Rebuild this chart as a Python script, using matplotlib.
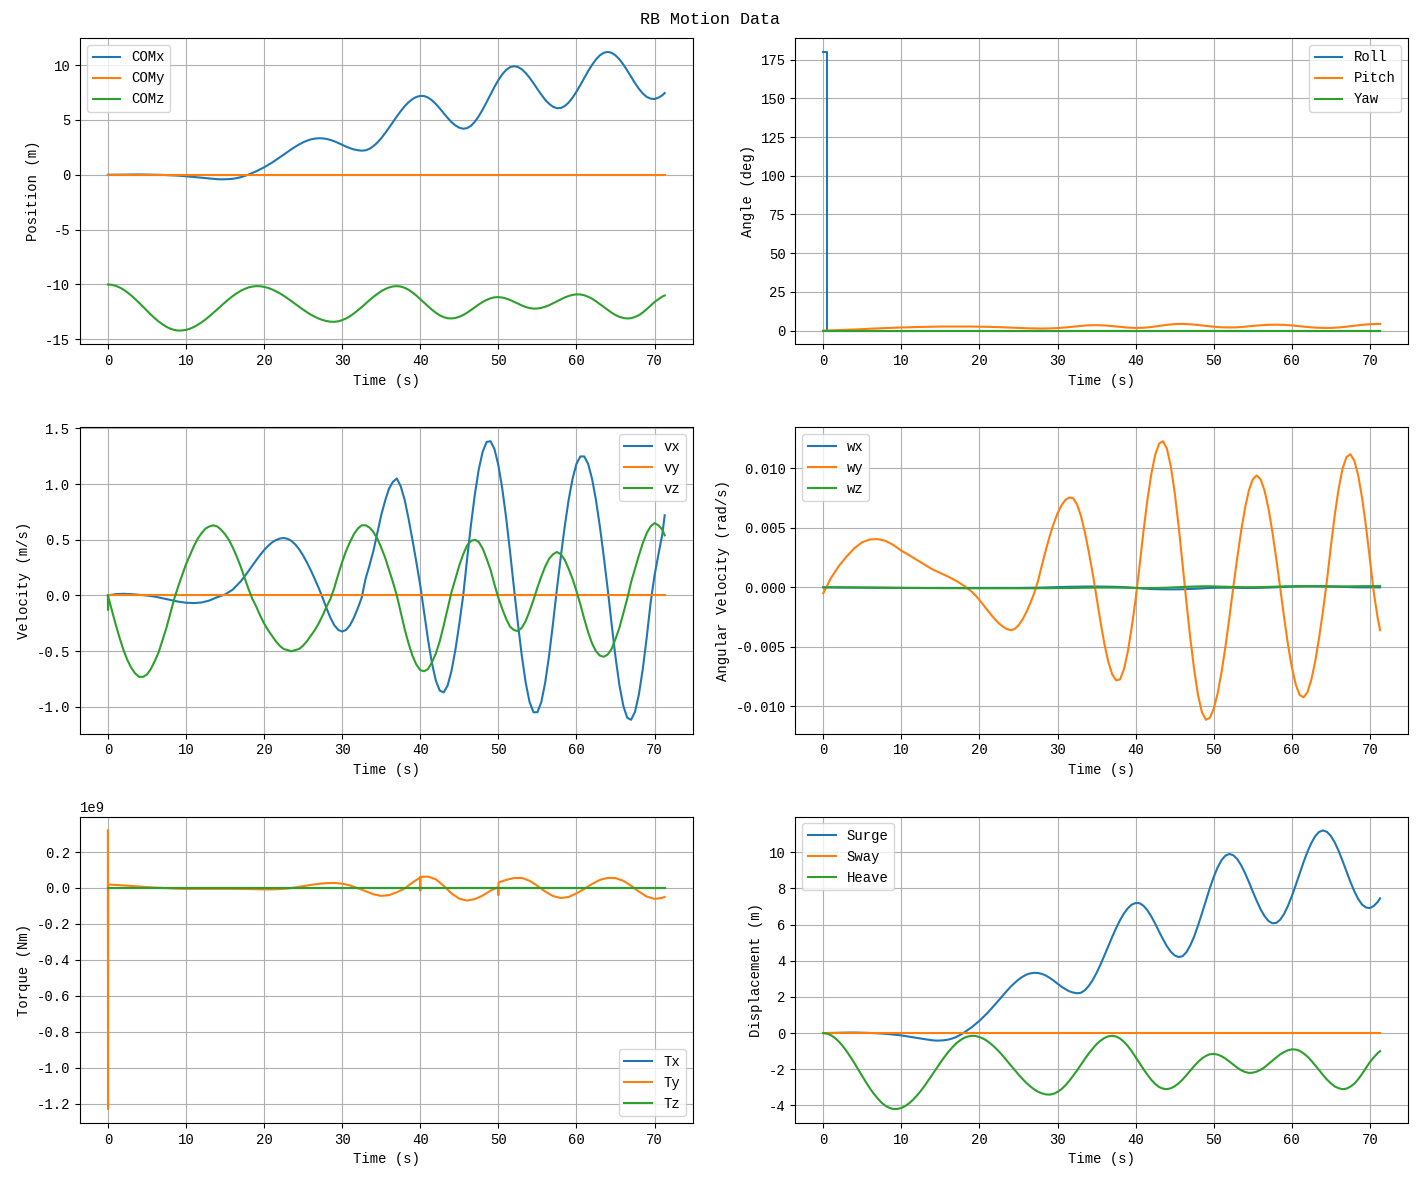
import matplotlib
matplotlib.use("Agg")
import numpy as np
import matplotlib.pyplot as plt

plt.rcParams['font.family'] = ['Liberation Mono', 'DejaVu Sans']
plt.rcParams['axes.unicode_minus'] = False

# ======================================
# DATA
# ======================================

# 0.5 s sampling for the centre of mass
half_time = [0.5 * i for i in range(143)] + [71.3]

com_x = [0.00, 0.005, 0.01, 0.015, 0.02, 0.025, 0.03, 0.03, 0.03, 0.025,
         0.02, 0.015, 0.01, 0.0, -0.01, -0.025, -0.04, -0.06, -0.08, -0.105,
         -0.13, -0.165, -0.20, -0.235, -0.27, -0.305, -0.34, -0.37, -0.40, -0.415,
         -0.41, -0.395, -0.36, -0.30, -0.22, -0.11, 0.02, 0.17, 0.32, 0.50,
         0.68, 0.89, 1.10, 1.34, 1.58, 1.83, 2.08, 2.33, 2.56, 2.77,
         2.96, 3.11, 3.23, 3.30, 3.33, 3.32, 3.27, 3.18, 3.05, 2.90,
         2.73, 2.57, 2.43, 2.31, 2.24, 2.20, 2.23, 2.37, 2.61, 2.93,
         3.33, 3.79, 4.29, 4.80, 5.32, 5.80, 6.24, 6.61, 6.90, 7.10,
         7.19, 7.18, 7.04, 6.79, 6.45, 6.05, 5.61, 5.19, 4.80, 4.50,
         4.29, 4.20, 4.25, 4.47, 4.85, 5.35, 5.96, 6.63, 7.33, 8.01,
         8.63, 9.16, 9.56, 9.81, 9.90, 9.83, 9.62, 9.28, 8.85, 8.35,
         7.82, 7.31, 6.84, 6.47, 6.20, 6.07, 6.09, 6.26, 6.58, 7.03,
         7.57, 8.18, 8.82, 9.45, 10.02, 10.51, 10.89, 11.12, 11.20, 11.12,
         10.89, 10.53, 10.06, 9.51, 8.93, 8.36, 7.84, 7.41, 7.10, 6.94,
         6.91, 7.03, 7.25, 7.45]
com_y = [0.0] * len(half_time)
com_z = [-10.00, -10.03, -10.12, -10.27, -10.47, -10.72, -11.01, -11.33, -11.67, -12.03,
         -12.39, -12.74, -13.07, -13.37, -13.63, -13.86, -14.03, -14.14, -14.20, -14.19,
         -14.14, -14.03, -13.88, -13.68, -13.45, -13.19, -12.90, -12.59, -12.27, -11.95,
         -11.63, -11.33, -11.05, -10.80, -10.58, -10.41, -10.27, -10.19, -10.15, -10.16,
         -10.22, -10.31, -10.44, -10.61, -10.80, -11.02, -11.26, -11.52, -11.78, -12.03,
         -12.29, -12.53, -12.75, -12.94, -13.11, -13.24, -13.33, -13.39, -13.40, -13.36,
         -13.25, -13.10, -12.89, -12.64, -12.36, -12.06, -11.74, -11.43, -11.13, -10.86,
         -10.61, -10.42, -10.27, -10.18, -10.15, -10.19, -10.30, -10.48, -10.72, -11.01,
         -11.33, -11.66, -11.99, -12.30, -12.58, -12.81, -12.98, -13.07, -13.10, -13.05,
         -12.94, -12.78, -12.57, -12.33, -12.07, -11.82, -11.59, -11.40, -11.26, -11.17,
         -11.15, -11.19, -11.28, -11.41, -11.57, -11.74, -11.91, -12.05, -12.15, -12.20,
         -12.19, -12.13, -12.03, -11.89, -11.71, -11.53, -11.35, -11.18, -11.05, -10.95,
         -10.90, -10.91, -10.98, -11.12, -11.30, -11.53, -11.79, -12.05, -12.32, -12.57,
         -12.78, -12.95, -13.05, -13.10, -13.07, -12.96, -12.80, -12.55, -12.25, -11.93,
         -11.60, -11.34, -11.10, -11.00]

# 1 s sampling for the slow signals
time = list(range(72)) + [71.3]

roll_time = [0.0, 0.45, 0.45, 71.3]
roll = [180.0, 180.0, 0.0, 0.0]
pitch = [0.0, 0.1, 0.3, 0.5, 0.7, 0.9, 1.2, 1.4, 1.6, 1.8,
         2.0, 2.1, 2.3, 2.4, 2.5, 2.6, 2.6, 2.6, 2.6, 2.6,
         2.5, 2.4, 2.3, 2.1, 1.9, 1.7, 1.5, 1.4, 1.3, 1.4,
         1.6, 2.0, 2.5, 3.0, 3.4, 3.5, 3.3, 2.9, 2.4, 1.9,
         1.7, 1.8, 2.3, 3.0, 3.7, 4.2, 4.3, 4.1, 3.6, 3.0,
         2.5, 2.1, 2.0, 2.1, 2.5, 3.0, 3.4, 3.7, 3.8, 3.7,
         3.3, 2.8, 2.3, 1.9, 1.7, 1.7, 2.0, 2.5, 3.1, 3.7,
         4.1, 4.3, 4.3]
yaw = [0.0] * len(time)

# 1 s up to 17 s, then 0.5 s for the fast oscillations
fast_time = list(range(17)) + [17 + 0.5 * i for i in range(109)] + [71.3]

vx = [0.00, 0.012, 0.015, 0.012, 0.006, 0.0, -0.01, -0.025, -0.04, -0.055,
      -0.065, -0.068, -0.063, -0.045, -0.015, 0.009, 0.053,
      0.126, 0.171, 0.219, 0.268, 0.317, 0.364, 0.407, 0.444, 0.475, 0.497,
      0.511, 0.516, 0.509, 0.490, 0.458, 0.414, 0.359, 0.295, 0.224, 0.147,
      0.066, -0.02, -0.115, -0.200, -0.267, -0.309, -0.324, -0.309, -0.267, -0.200,
      -0.115, -0.020, 0.15, 0.27, 0.40, 0.56, 0.72, 0.85, 0.96, 1.02,
      1.05, 0.98, 0.86, 0.69, 0.50, 0.30, 0.09, -0.154, -0.399, -0.608,
      -0.765, -0.854, -0.870, -0.809, -0.677, -0.488, -0.256, 0.0, 0.328, 0.638,
      0.911, 1.135, 1.292, 1.378, 1.385, 1.315, 1.171, 0.960, 0.696, 0.393,
      0.066, -0.249, -0.539, -0.782, -0.957, -1.048, -1.048, -0.957, -0.781, -0.539,
      -0.250, 0.059, 0.349, 0.620, 0.857, 1.047, 1.181, 1.248, 1.248, 1.181,
      1.047, 0.857, 0.620, 0.349, 0.059, -0.254, -0.551, -0.803, -0.990, -1.097,
      -1.116, -1.044, -0.887, -0.658, -0.376, -0.064, 0.18, 0.37, 0.55,
      0.72]
vy = [0.0] * len(fast_time)

# vz has a small jump right at the start
vz_time = [0.0, 0.02, 0.04] + half_time[1:]
vz = [0.0, -0.13, -0.01,
      -0.13, -0.26, -0.38, -0.49, -0.58, -0.65, -0.70, -0.73, -0.73, -0.71,
      -0.66, -0.59, -0.51, -0.40, -0.29, -0.16, -0.03, 0.08, 0.18, 0.28,
      0.36, 0.44, 0.51, 0.56, 0.60, 0.62, 0.63, 0.62, 0.59, 0.55,
      0.50, 0.43, 0.35, 0.26, 0.16, 0.06, -0.03, -0.10, -0.18, -0.25,
      -0.31, -0.36, -0.41, -0.45, -0.48, -0.49, -0.50, -0.49, -0.48, -0.45,
      -0.41, -0.36, -0.31, -0.25, -0.18, -0.10, -0.03, 0.07, 0.19, 0.30,
      0.40, 0.48, 0.55, 0.60, 0.63, 0.63, 0.61, 0.57, 0.51, 0.43,
      0.34, 0.23, 0.12, 0.0, -0.15, -0.30, -0.43, -0.54, -0.62, -0.67,
      -0.68, -0.66, -0.60, -0.52, -0.41, -0.27, -0.12, 0.03, 0.15, 0.27,
      0.37, 0.45, 0.49, 0.50, 0.48, 0.42, 0.33, 0.23, 0.10, -0.02,
      -0.12, -0.21, -0.28, -0.31, -0.32, -0.29, -0.23, -0.14, -0.04, 0.07,
      0.17, 0.26, 0.33, 0.37, 0.39, 0.37, 0.32, 0.24, 0.15, 0.04,
      -0.08, -0.21, -0.33, -0.43, -0.50, -0.54, -0.55, -0.53, -0.48, -0.39,
      -0.29, -0.16, -0.03, 0.12, 0.24, 0.36, 0.47, 0.56, 0.62, 0.65,
      0.63, 0.59, 0.54]

# angular velocities in 1e-3 rad/s
wx = [0.0, 0.0, -0.01, -0.01, -0.02, -0.02, -0.03, -0.03, -0.04, -0.04,
      -0.05, -0.05, -0.05, -0.05, -0.05, -0.05, -0.05, -0.05, -0.05, -0.05,
      -0.05, -0.05, -0.05, -0.05, -0.05, -0.05, -0.04, -0.03, -0.02, 0.0,
      0.02, 0.04, 0.05, 0.06, 0.07, 0.07, 0.06, 0.05, 0.03, 0.0,
      -0.05, -0.10, -0.14, -0.16, -0.17, -0.17, -0.16, -0.14, -0.11, -0.07,
      -0.04, -0.03, -0.03, -0.04, -0.05, -0.05, -0.04, -0.02, 0.01, 0.04,
      0.07, 0.09, 0.10, 0.10, 0.09, 0.07, 0.05, 0.03, 0.01, 0.0,
      0.0, 0.0, 0.0]
wy = [-0.5, 0.8, 1.8, 2.6, 3.3, 3.8, 4.03, 4.05, 3.9, 3.55,
      3.08, 2.7, 2.3, 1.9, 1.5, 1.2, 0.9,
      0.55, 0.35, 0.14, -0.10, -0.36, -0.68, -1.06, -1.48, -1.9, -2.31,
      -2.69, -3.03, -3.3, -3.50, -3.6, -3.50, -3.19, -2.72, -2.09, -1.34,
      -0.51, 0.54, 1.87, 3.14, 4.32, 5.35, 6.22, 6.89, 7.34, 7.55,
      7.48, 6.96, 5.99, 4.63, 2.98, 1.15, -0.85, -2.91, -4.76, -6.26,
      -7.31, -7.82, -7.73, -6.89, -5.38, -3.35, -0.98, 1.81, 4.71, 7.33,
      9.51, 11.12, 12.07, 12.28, 11.66, 10.18, 7.96, 5.17, 1.99, -1.25,
      -4.27, -6.95, -9.10, -10.52, -11.13, -10.96, -10.20, -8.90, -7.12, -4.97,
      -2.55, 0.0, 2.43, 4.70, 6.65, 8.14, 9.08, 9.40, 9.08, 8.14,
      6.65, 4.70, 2.43, 0.0, -2.48, -4.77, -6.72, -8.17, -9.04, -9.24,
      -8.80, -7.76, -6.19, -4.20, -1.92, 0.585, 3.46, 6.10, 8.32, 9.98,
      10.95, 11.18, 10.65, 9.40, 7.49, 5.08, 2.33, -0.45, -2.6,
      -3.6]
wz = [0.0, 0.0, 0.0, -0.01, -0.01, -0.02, -0.02, -0.03, -0.03, -0.04,
      -0.04, -0.05, -0.05, -0.06, -0.06, -0.07, -0.07, -0.07, -0.08, -0.08,
      -0.08, -0.08, -0.08, -0.08, -0.08, -0.08, -0.08, -0.08, -0.07, -0.07,
      -0.06, -0.06, -0.05, -0.04, -0.03, -0.02, -0.02, -0.02, -0.03, -0.04,
      -0.05, -0.06, -0.06, -0.05, -0.03, 0.0, 0.03, 0.06, 0.08, 0.09,
      0.08, 0.06, 0.04, 0.02, 0.01, 0.01, 0.02, 0.04, 0.06, 0.08,
      0.09, 0.10, 0.10, 0.10, 0.09, 0.08, 0.08, 0.08, 0.09, 0.10,
      0.10, 0.10, 0.10]

# torque in 1e9 Nm, with the start-up spike and the small jumps at 40 s and 50 s
torque_time = ([0.0, 0.02, 0.04] + list(range(1, 40)) + [39.98, 40.0, 40.02]
               + list(range(41, 50)) + [49.98, 50.0, 50.02] + list(range(51, 72)) + [71.3])
ty = [0.32, -1.23, 0.019,
      0.017, 0.014, 0.011, 0.008, 0.005, 0.002, 0.0, -0.002, -0.004, -0.005,
      -0.005, -0.005, -0.005, -0.005, -0.005, -0.005, -0.006, -0.006, -0.007, -0.008,
      -0.008, -0.006, -0.003, 0.003, 0.010, 0.017, 0.023, 0.027, 0.028, 0.024,
      0.014, -0.001, -0.018, -0.035, -0.044, -0.040, -0.024, -0.003, 0.030,
      0.058, -0.015, 0.062,
      0.063, 0.048, 0.012, -0.030, -0.060, -0.070, -0.062, -0.042, -0.015,
      0.005, -0.040, 0.030,
      0.045, 0.055, 0.056, 0.040, 0.012, -0.020, -0.045, -0.056, -0.050, -0.030,
      -0.005, 0.022, 0.045, 0.056, 0.055, 0.040, 0.012, -0.020, -0.048, -0.061,
      -0.055,
      -0.050]
tx = [0.0] * len(torque_time)
tz = [0.0] * len(torque_time)

# ======================================
# PLOT
# ======================================

fig, axes = plt.subplots(3, 2, figsize=(14.19, 11.8), dpi=100)
fig.subplots_adjust(left=0.0564, right=0.9922, bottom=0.0483, top=0.9678,
                    wspace=0.168, hspace=0.27)
fig.suptitle('RB Motion Data', y=0.99, va='top')

ax = axes[0, 0]
ax.plot(half_time, com_x, label='COMx')
ax.plot(half_time, com_y, label='COMy')
ax.plot(half_time, com_z, label='COMz')
ax.set_ylabel('Position (m)')
ax.legend(loc='upper left')

ax = axes[0, 1]
ax.plot(roll_time, roll, label='Roll')
ax.plot(time, pitch, label='Pitch')
ax.plot(time, yaw, label='Yaw')
ax.set_ylabel('Angle (deg)')
ax.legend(loc='upper right')

ax = axes[1, 0]
ax.plot(fast_time, vx, label='vx')
ax.plot(fast_time, vy, label='vy')
ax.plot(vz_time, vz, label='vz')
ax.set_ylabel('Velocity (m/s)')
ax.legend(loc='upper right')

ax = axes[1, 1]
ax.plot(time, np.array(wx) * 1e-3, label='wx')
ax.plot(fast_time, np.array(wy) * 1e-3, label='wy')
ax.plot(time, np.array(wz) * 1e-3, label='wz')
ax.set_ylabel('Angular Velocity (rad/s)')
ax.legend(loc='upper left')

ax = axes[2, 0]
ax.plot(torque_time, np.array(tx) * 1e9, label='Tx')
ax.plot(torque_time, np.array(ty) * 1e9, label='Ty')
ax.plot(torque_time, np.array(tz) * 1e9, label='Tz')
ax.set_ylabel('Torque (Nm)')
ax.legend(loc='lower right')

# displacement relative to the start position
ax = axes[2, 1]
ax.plot(half_time, np.array(com_x) - com_x[0], label='Surge')
ax.plot(half_time, np.array(com_y) - com_y[0], label='Sway')
ax.plot(half_time, np.array(com_z) - com_z[0], label='Heave')
ax.set_ylabel('Displacement (m)')
ax.legend(loc='upper left')

for ax in axes.flat:
    ax.set_xlabel('Time (s)')
    ax.grid(True)

fig.savefig('out.png')
